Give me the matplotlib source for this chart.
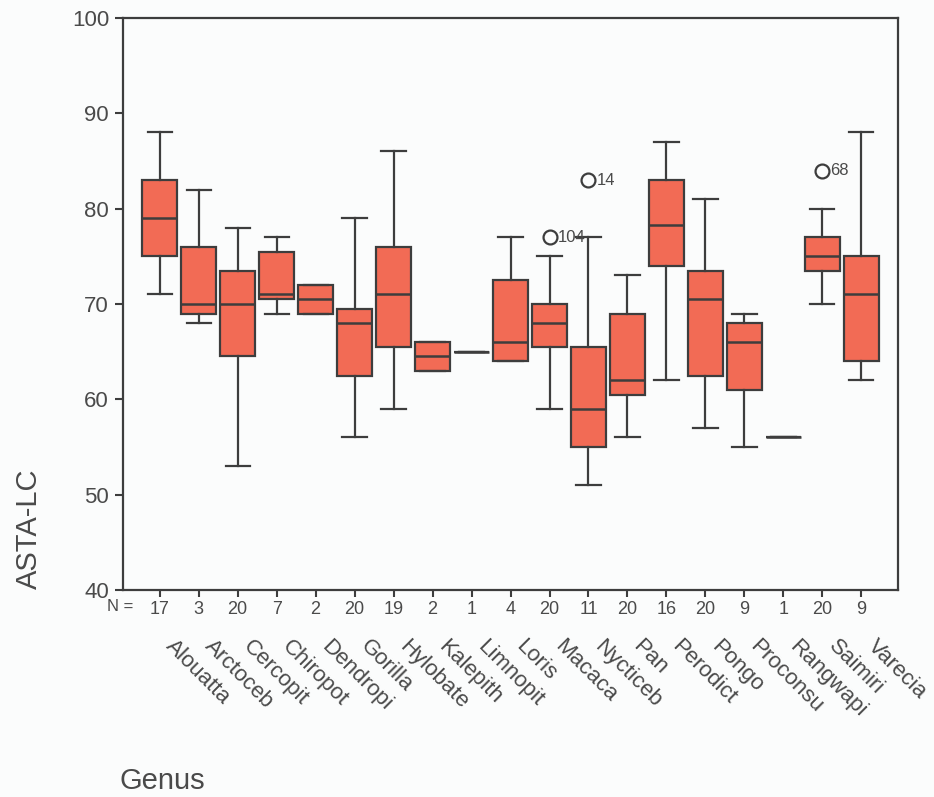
import matplotlib
matplotlib.use("Agg")
import matplotlib.pyplot as plt

plt.rcParams["font.family"] = ["Liberation Sans", "DejaVu Sans"]

GENUS = ["Alouatta", "Arctoceb", "Cercopit", "Chiropot", "Dendropi", "Gorilla",
         "Hylobate", "Kalepith", "Limnopit", "Loris", "Macaca", "Nycticeb", "Pan",
         "Perodict", "Pongo", "Proconsu", "Rangwapi", "Saimiri", "Varecia"]
N_CASES = [17, 3, 20, 7, 2, 20, 19, 2, 1, 4, 20, 11, 20, 16, 20, 9, 1, 20, 9]
WHIS_LO = [71, 68, 53, 69, 69, 56, 59, 63, 65, 64, 59, 51, 56, 62, 57, 55, 56, 70, 62]
Q1 = [75, 69, 64.5, 70.5, 69, 62.5, 65.5, 63, 65, 64, 65.5, 55, 60.5, 74, 62.5, 61, 56, 73.5, 64]
MEDIAN = [79, 70, 70, 71, 70.5, 68, 71, 64.5, 65, 66, 68, 59, 62, 78.3, 70.5, 66, 56, 75, 71]
Q3 = [83, 76, 73.5, 75.5, 72, 69.5, 76, 66, 65, 72.5, 70, 65.5, 69, 83, 73.5, 68, 56, 77, 75]
WHIS_HI = [88, 82, 78, 77, 72, 79, 86, 66, 65, 77, 75, 77, 73, 87, 81, 69, 56, 80, 88]
# outliers: (genus, value, case label)
OUTLIERS = [("Macaca", 77, "104"), ("Nycticeb", 83, "14"), ("Saimiri", 84, "68")]

FILL = "#f26b55"
EDGE = "#3d3d3d"
TEXT = "#4a4a4a"

stats = []
for g, lo, a, m, b, hi in zip(GENUS, WHIS_LO, Q1, MEDIAN, Q3, WHIS_HI):
    stats.append(dict(label=g, whislo=lo, q1=a, med=m, q3=b, whishi=hi,
                      fliers=[v for og, v, _ in OUTLIERS if og == g]))

fig = plt.figure(figsize=(9.34, 7.97), dpi=100, facecolor="#fbfcfc")
ax = fig.add_axes([0.1317, 0.2597, 0.8298, 0.7177])
ax.set_facecolor("#fbfcfc")
pos = list(range(1, len(GENUS) + 1))
ax.bxp(stats, positions=pos, widths=0.9, capwidths=0.62, patch_artist=True,
       boxprops=dict(facecolor=FILL, edgecolor=EDGE, linewidth=1.6),
       medianprops=dict(color=EDGE, linewidth=1.8),
       whiskerprops=dict(color=EDGE, linewidth=1.6),
       capprops=dict(color=EDGE, linewidth=1.6),
       flierprops=dict(marker="o", markersize=10, markerfacecolor="none",
                       markeredgecolor=EDGE, markeredgewidth=1.6))

for g, v, lab in OUTLIERS:
    ax.text(GENUS.index(g) + 1 + 0.2, v, lab, fontsize=12, color=TEXT,
            ha="left", va="center")

ax.set_xlim(0.06, len(GENUS) + 0.94)
ax.set_ylim(40, 100)
ax.set_yticks([40, 50, 60, 70, 80, 90, 100])
ax.tick_params(axis="y", direction="out", length=6, width=1.5, color=EDGE,
               labelsize=16, labelcolor=TEXT, pad=4)
ax.set_xticks(pos)
ax.set_xticklabels([str(n) for n in N_CASES])
ax.tick_params(axis="x", direction="out", length=5, width=1.5, color=EDGE,
               labelsize=13, labelcolor=TEXT, pad=3)
for s in ax.spines.values():
    s.set_color(EDGE)
    s.set_linewidth(1.6)

trans = ax.get_xaxis_transform()
ax.text(0.014, -0.015, "N =", transform=ax.transAxes, fontsize=12, color=TEXT,
        ha="right", va="top")
for p, g in zip(pos, GENUS):
    ax.text(p + 0.42, -0.08, g, transform=trans, rotation=-45,
            rotation_mode="anchor", ha="left", va="top", fontsize=16, color=TEXT)

fig.text(0.031, 0.336, "ASTA-LC", rotation=90, fontsize=21, color=TEXT,
         ha="center", va="center")
fig.text(0.128, 0.01, "Genus", fontsize=21, color=TEXT, ha="left", va="baseline")

fig.savefig("out.png", dpi=100, facecolor=fig.get_facecolor())
